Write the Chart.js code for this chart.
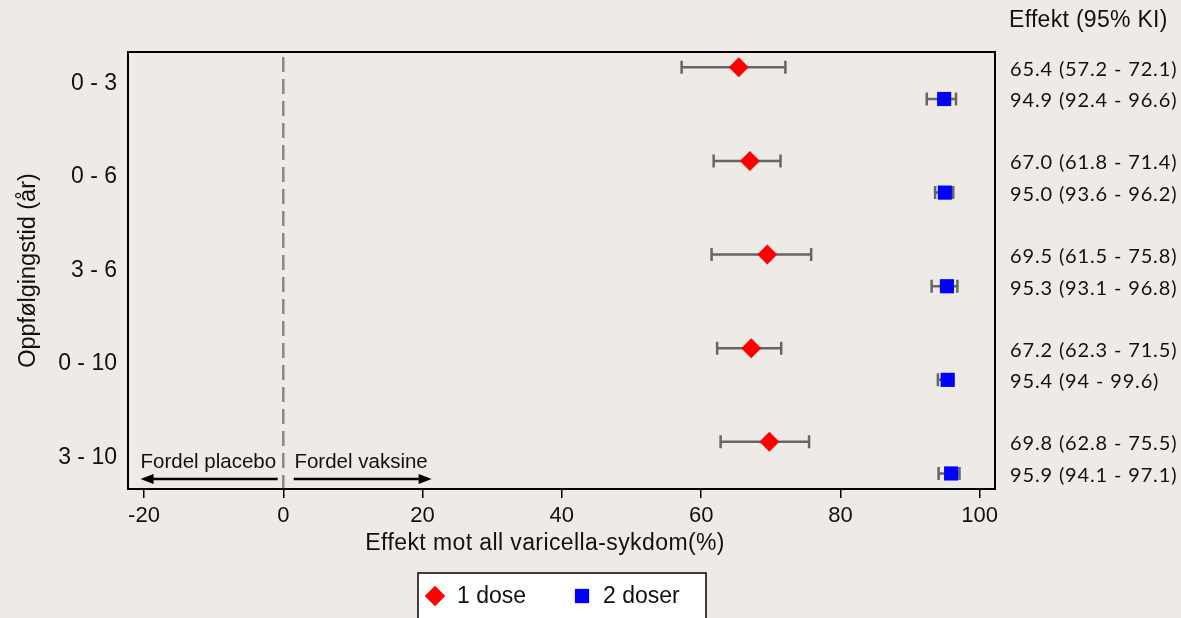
<!DOCTYPE html>
<html lang="no">
<head>
<meta charset="UTF-8">
<title>Effekt mot all varicella-sykdom</title>
<script src="https://cdn.jsdelivr.net/npm/chart.js"></script>
<style>
  html, body { margin: 0; padding: 0; background: #eeebe6; overflow: hidden; }
  #wrap { width: 1181px; height: 618px; }
  canvas { display: block; }
</style>
</head>
<body>
<div id="wrap"><canvas id="forest" width="1181" height="618"></canvas></div>
<script>
// oppfølgingstid-grupper (top -> bunn)
const groups = ['0 - 3', '0 - 6', '3 - 6', '0 - 10', '3 - 10'];
const xTicks = [-20, 0, 20, 40, 60, 80, 100];

// 1 dose
const dose1Est = [65.4, 67.0, 69.5, 67.2, 69.8];
const dose1Lo  = [57.2, 61.8, 61.5, 62.3, 62.8];
const dose1Hi  = [72.1, 71.4, 75.8, 71.5, 75.5];
const dose1Text = ['65.4 (57.2 - 72.1)', '67.0 (61.8 - 71.4)', '69.5 (61.5 - 75.8)', '67.2 (62.3 - 71.5)', '69.8 (62.8 - 75.5)'];

// 2 doser
const dose2Est = [94.9, 95.0, 95.3, 95.4, 95.9];
const dose2Lo  = [92.4, 93.6, 93.1, 94.0, 94.1];
const dose2Hi  = [96.6, 96.2, 96.8, 96.2, 97.1]; // 0-10: bar in the figure stops ~96, not 99.6
const dose2Text = ['94.9 (92.4 - 96.6)', '95.0 (93.6 - 96.2)', '95.3 (93.1 - 96.8)', '95.4 (94 - 99.6)', '95.9 (94.1 - 97.1)'];

const OFFSET = 0.169; // vertical shift of each dose row around the group centre

function rows(est, lo, hi, text, shift) {
  return est.map((v, i) => ({ x: v, y: i + 1 + shift, lo: lo[i], hi: hi[i], label: text[i] }));
}

const SANS = "'Liberation Sans', Arial, sans-serif";
Chart.defaults.font.family = SANS;
Chart.defaults.color = '#111';

function drawSymbol(ctx, ds, x, y) {
  if (Chart.helpers && Chart.helpers.drawPoint) {
    ctx.fillStyle = ds.backgroundColor;
    ctx.strokeStyle = ds.backgroundColor;
    ctx.lineWidth = 0;
    Chart.helpers.drawPoint(ctx, { pointStyle: ds.pointStyle, radius: ds.pointRadius, borderWidth: 0 }, x, y);
    ctx.fill();
  }
}

function arrow(ctx, x1, x2, y) {
  const dir = Math.sign(x2 - x1);
  ctx.beginPath();
  ctx.moveTo(x1, y);
  ctx.lineTo(x2 - dir * 10, y);
  ctx.stroke();
  ctx.beginPath();
  ctx.moveTo(x2, y);
  ctx.lineTo(x2 - dir * 13, y - 5);
  ctx.lineTo(x2 - dir * 13, y + 5);
  ctx.closePath();
  ctx.fill();
}

const forestExtras = {
  id: 'forestExtras',
  beforeDatasetsDraw(chart) {
    const { ctx, chartArea: a, scales: { x, y } } = chart;
    ctx.save();
    // null-linje
    ctx.strokeStyle = '#888';
    ctx.lineWidth = 2.5;
    ctx.setLineDash([15, 7]);
    ctx.beginPath();
    ctx.moveTo(x.getPixelForValue(0), a.top + 5);
    ctx.lineTo(x.getPixelForValue(0), a.bottom);
    ctx.stroke();
    ctx.setLineDash([]);
    // konfidensintervall
    ctx.strokeStyle = '#666';
    ctx.lineWidth = 2.5;
    chart.data.datasets.forEach(ds => {
      ds.data.forEach(p => {
        const py = y.getPixelForValue(p.y);
        const x0 = x.getPixelForValue(p.lo), x1 = x.getPixelForValue(p.hi);
        ctx.beginPath();
        ctx.moveTo(x0, py); ctx.lineTo(x1, py);
        ctx.moveTo(x0, py - 6.5); ctx.lineTo(x0, py + 6.5);
        ctx.moveTo(x1, py - 6.5); ctx.lineTo(x1, py + 6.5);
        ctx.stroke();
      });
    });
    // fordel-piler
    ctx.strokeStyle = '#000';
    ctx.fillStyle = '#000';
    ctx.lineWidth = 2.5;
    const ay = a.bottom - 10;
    arrow(ctx, x.getPixelForValue(-0.8), x.getPixelForValue(-20.5), ay);
    arrow(ctx, x.getPixelForValue(1.5), x.getPixelForValue(21.3), ay);
    ctx.font = '20.5px ' + SANS;
    ctx.textBaseline = 'alphabetic';
    ctx.textAlign = 'left';
    ctx.fillStyle = '#111';
    ctx.fillText('Fordel placebo', x.getPixelForValue(-20.5), a.bottom - 21);
    ctx.fillText('Fordel vaksine', x.getPixelForValue(1.6), a.bottom - 21);
    ctx.restore();
  },
  afterDraw(chart) {
    const { ctx, chartArea: a, scales: { x, y } } = chart;
    ctx.save();
    // ramme
    ctx.strokeStyle = '#000';
    ctx.lineWidth = 2;
    ctx.strokeRect(a.left, a.top, a.right - a.left, a.bottom - a.top);
    // x-tittel
    ctx.fillStyle = '#111';
    ctx.textBaseline = 'middle';
    ctx.textAlign = 'center';
    ctx.font = '23px ' + SANS;
    ctx.letterSpacing = '0.4px';
    ctx.fillText('Effekt mot all varicella-sykdom(%)', x.getPixelForValue(37.6), 544);
    // effekt-kolonne
    ctx.textAlign = 'left';
    ctx.letterSpacing = '0.3px';
    ctx.fillText('Effekt (95% KI)', 1009, 21);
    ctx.font = '20px Lato, sans-serif';
    ctx.letterSpacing = '0.85px';
    chart.data.datasets.forEach(ds => {
      ds.data.forEach(p => ctx.fillText(p.label, 1010, y.getPixelForValue(p.y) + 2));
    });
    ctx.letterSpacing = '0px';
    // forklaring
    ctx.fillStyle = '#fff';
    ctx.fillRect(418, 573, 288, 60);
    ctx.strokeStyle = '#000';
    ctx.lineWidth = 1.5;
    ctx.strokeRect(418, 573, 288, 60);
    const ly = 596;
    const legendX = [[435, 457], [582, 603]];
    ctx.font = '23px ' + SANS;
    chart.data.datasets.forEach((ds, i) => {
      drawSymbol(ctx, ds, legendX[i][0], ly);
      ctx.fillStyle = '#111';
      ctx.textBaseline = 'middle';
      ctx.fillText(ds.label, legendX[i][1], ly + 1);
    });
    ctx.restore();
  }
};

new Chart(document.getElementById('forest'), {
  type: 'scatter',
  data: {
    datasets: [
      {
        label: '1 dose',
        data: rows(dose1Est, dose1Lo, dose1Hi, dose1Text, -OFFSET),
        pointStyle: 'rectRot',
        pointRadius: 10,
        pointHoverRadius: 10,
        backgroundColor: '#ff0000',
        borderWidth: 0
      },
      {
        label: '2 doser',
        data: rows(dose2Est, dose2Lo, dose2Hi, dose2Text, OFFSET),
        pointStyle: 'rect',
        pointRadius: 10,
        pointHoverRadius: 10,
        backgroundColor: '#0000ff',
        borderWidth: 0
      }
    ]
  },
  options: {
    responsive: false,
    animation: false,
    devicePixelRatio: 1,
    layout: { padding: { top: 52, right: 186, left: 0, bottom: 0 } },
    plugins: { legend: { display: false }, tooltip: { enabled: false } },
    scales: {
      x: {
        type: 'linear',
        min: -22.3,
        max: 102.2,
        afterBuildTicks: s => { s.ticks = xTicks.map(v => ({ value: v })); },
        afterFit: s => { s.height = 129; },
        border: { display: false },
        grid: { drawOnChartArea: false, drawTicks: true, tickLength: 9, color: '#000', lineWidth: 1.5 },
        ticks: { font: { size: 22 }, color: '#111', padding: 5, maxRotation: 0 }
      },
      y: {
        type: 'linear',
        reverse: true,
        min: 0.667,
        max: 5.335,
        afterBuildTicks: s => { s.ticks = groups.map((g, i) => ({ value: i + 1 })); },
        afterFit: s => { s.width = 128; },
        border: { display: false },
        grid: { display: false, drawTicks: false },
        ticks: {
          font: { size: 23 },
          color: '#111',
          padding: 11,
          callback: v => groups[v - 1]
        },
        title: {
          display: true,
          text: 'Oppfølgingstid (år)',
          font: { size: 23.5 },
          color: '#111',
          padding: { top: 14, bottom: 0 }
        }
      }
    }
  },
  plugins: [forestExtras]
});
</script>
</body>
</html>
